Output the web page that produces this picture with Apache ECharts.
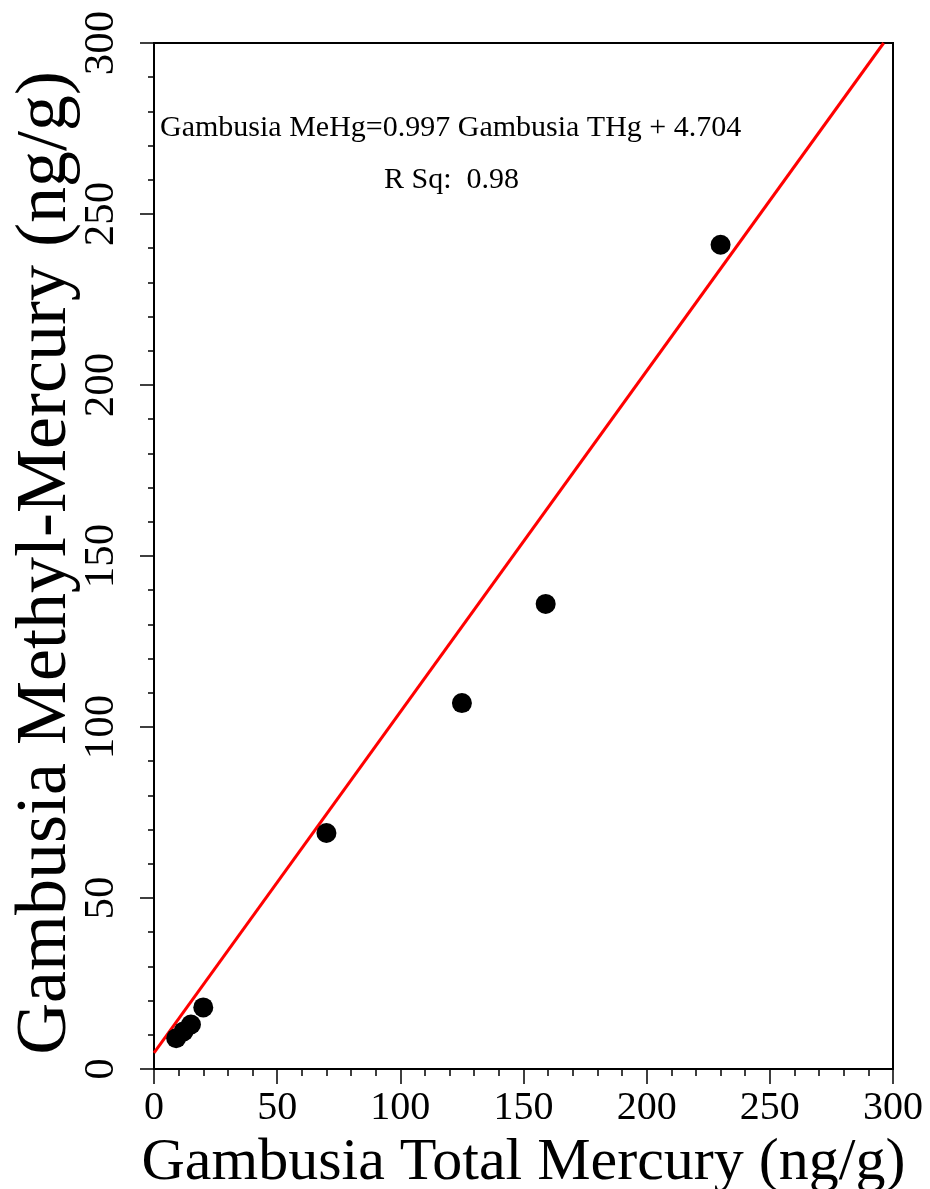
<!DOCTYPE html>
<html>
<head>
<meta charset="utf-8">
<style>html,body{margin:0;padding:0;background:#fff;}#c{width:930px;height:1189px;}</style>
<script src="https://cdn.jsdelivr.net/npm/echarts@6/dist/echarts.min.js"></script>
</head>
<body>
<div id="c"></div>
<script>
// Observed data (Gambusia Total Mercury vs Methyl-Mercury, ng/g)
var totalHg = [9, 12, 15, 20, 70, 125, 159, 230];
var methylHg = [9, 11, 13, 18, 69, 107, 136, 241];
// Regression line endpoints (as printed: MeHg = 0.997 THg + 4.704)
var fitX = [0, 296.2];
var fitY = [4.704, 300];
var xTicks = [0, 50, 100, 150, 200, 250, 300];
var yTicks = [0, 50, 100, 150, 200, 250, 300];

var font = 'Liberation Serif, Times New Roman, serif';
var chart = echarts.init(document.getElementById('c'), null, {renderer: 'canvas'});
chart.setOption({
  backgroundColor: '#fff',
  animation: false,
  grid: {left: 154, right: 37, top: 43, bottom: 120, show: true, borderColor: '#000', borderWidth: 2,
    backgroundColor: 'transparent', containLabel: false, outerBoundsMode: 'none'},
  xAxis: {
    type: 'value', min: xTicks[0], max: xTicks[xTicks.length - 1], interval: 50,
    name: 'Gambusia Total Mercury (ng/g)', nameLocation: 'middle', nameGap: 50,
    nameTextStyle: {fontFamily: font, fontSize: 60, color: '#000'},
    axisLine: {show: true, lineStyle: {color: '#000', width: 2}},
    axisTick: {show: true, inside: false, length: 15, lineStyle: {color: '#000', width: 1.5}},
    minorTick: {show: true, splitNumber: 5, length: 7, lineStyle: {color: '#000', width: 1.5}},
    splitLine: {show: false},
    axisLabel: {fontFamily: font, fontSize: 40, color: '#000', margin: 19}
  },
  yAxis: {
    type: 'value', min: yTicks[0], max: yTicks[yTicks.length - 1], interval: 50,
    name: 'Gambusia Methyl-Mercury (ng/g)', nameLocation: 'middle', nameGap: 72, nameMoveOverlap: false,
    nameTextStyle: {fontFamily: font, fontSize: 72, color: '#000', padding: [0, 14, 0, 0]},
    axisLine: {show: true, lineStyle: {color: '#000', width: 2}},
    axisTick: {show: true, inside: false, length: 14, lineStyle: {color: '#000', width: 1.5}},
    minorTick: {show: true, splitNumber: 5, length: 6, lineStyle: {color: '#000', width: 1.5}},
    splitLine: {show: false},
    axisLabel: {fontFamily: font, fontSize: 43, color: '#000', margin: 31, rotate: 90}
  },
  graphic: [
    {type: 'text', left: 160, top: 113, style: {text: 'Gambusia MeHg=0.997 Gambusia THg + 4.704', font: '30px ' + font, fill: '#000'}},
    {type: 'text', left: 384, top: 165, style: {text: 'R Sq:  0.98', font: '30px ' + font, fill: '#000'}}
  ],
  series: [
    {
      type: 'line', data: fitX.map(function (x, i) { return [x, fitY[i]]; }),
      symbol: 'none', lineStyle: {color: '#ff0000', width: 3}, z: 3
    },
    {
      type: 'scatter', data: totalHg.map(function (x, i) { return [x, methylHg[i]]; }),
      symbol: 'circle', symbolSize: 20, itemStyle: {color: '#000', opacity: 1}, z: 4
    }
  ]
});
</script>
</body>
</html>
